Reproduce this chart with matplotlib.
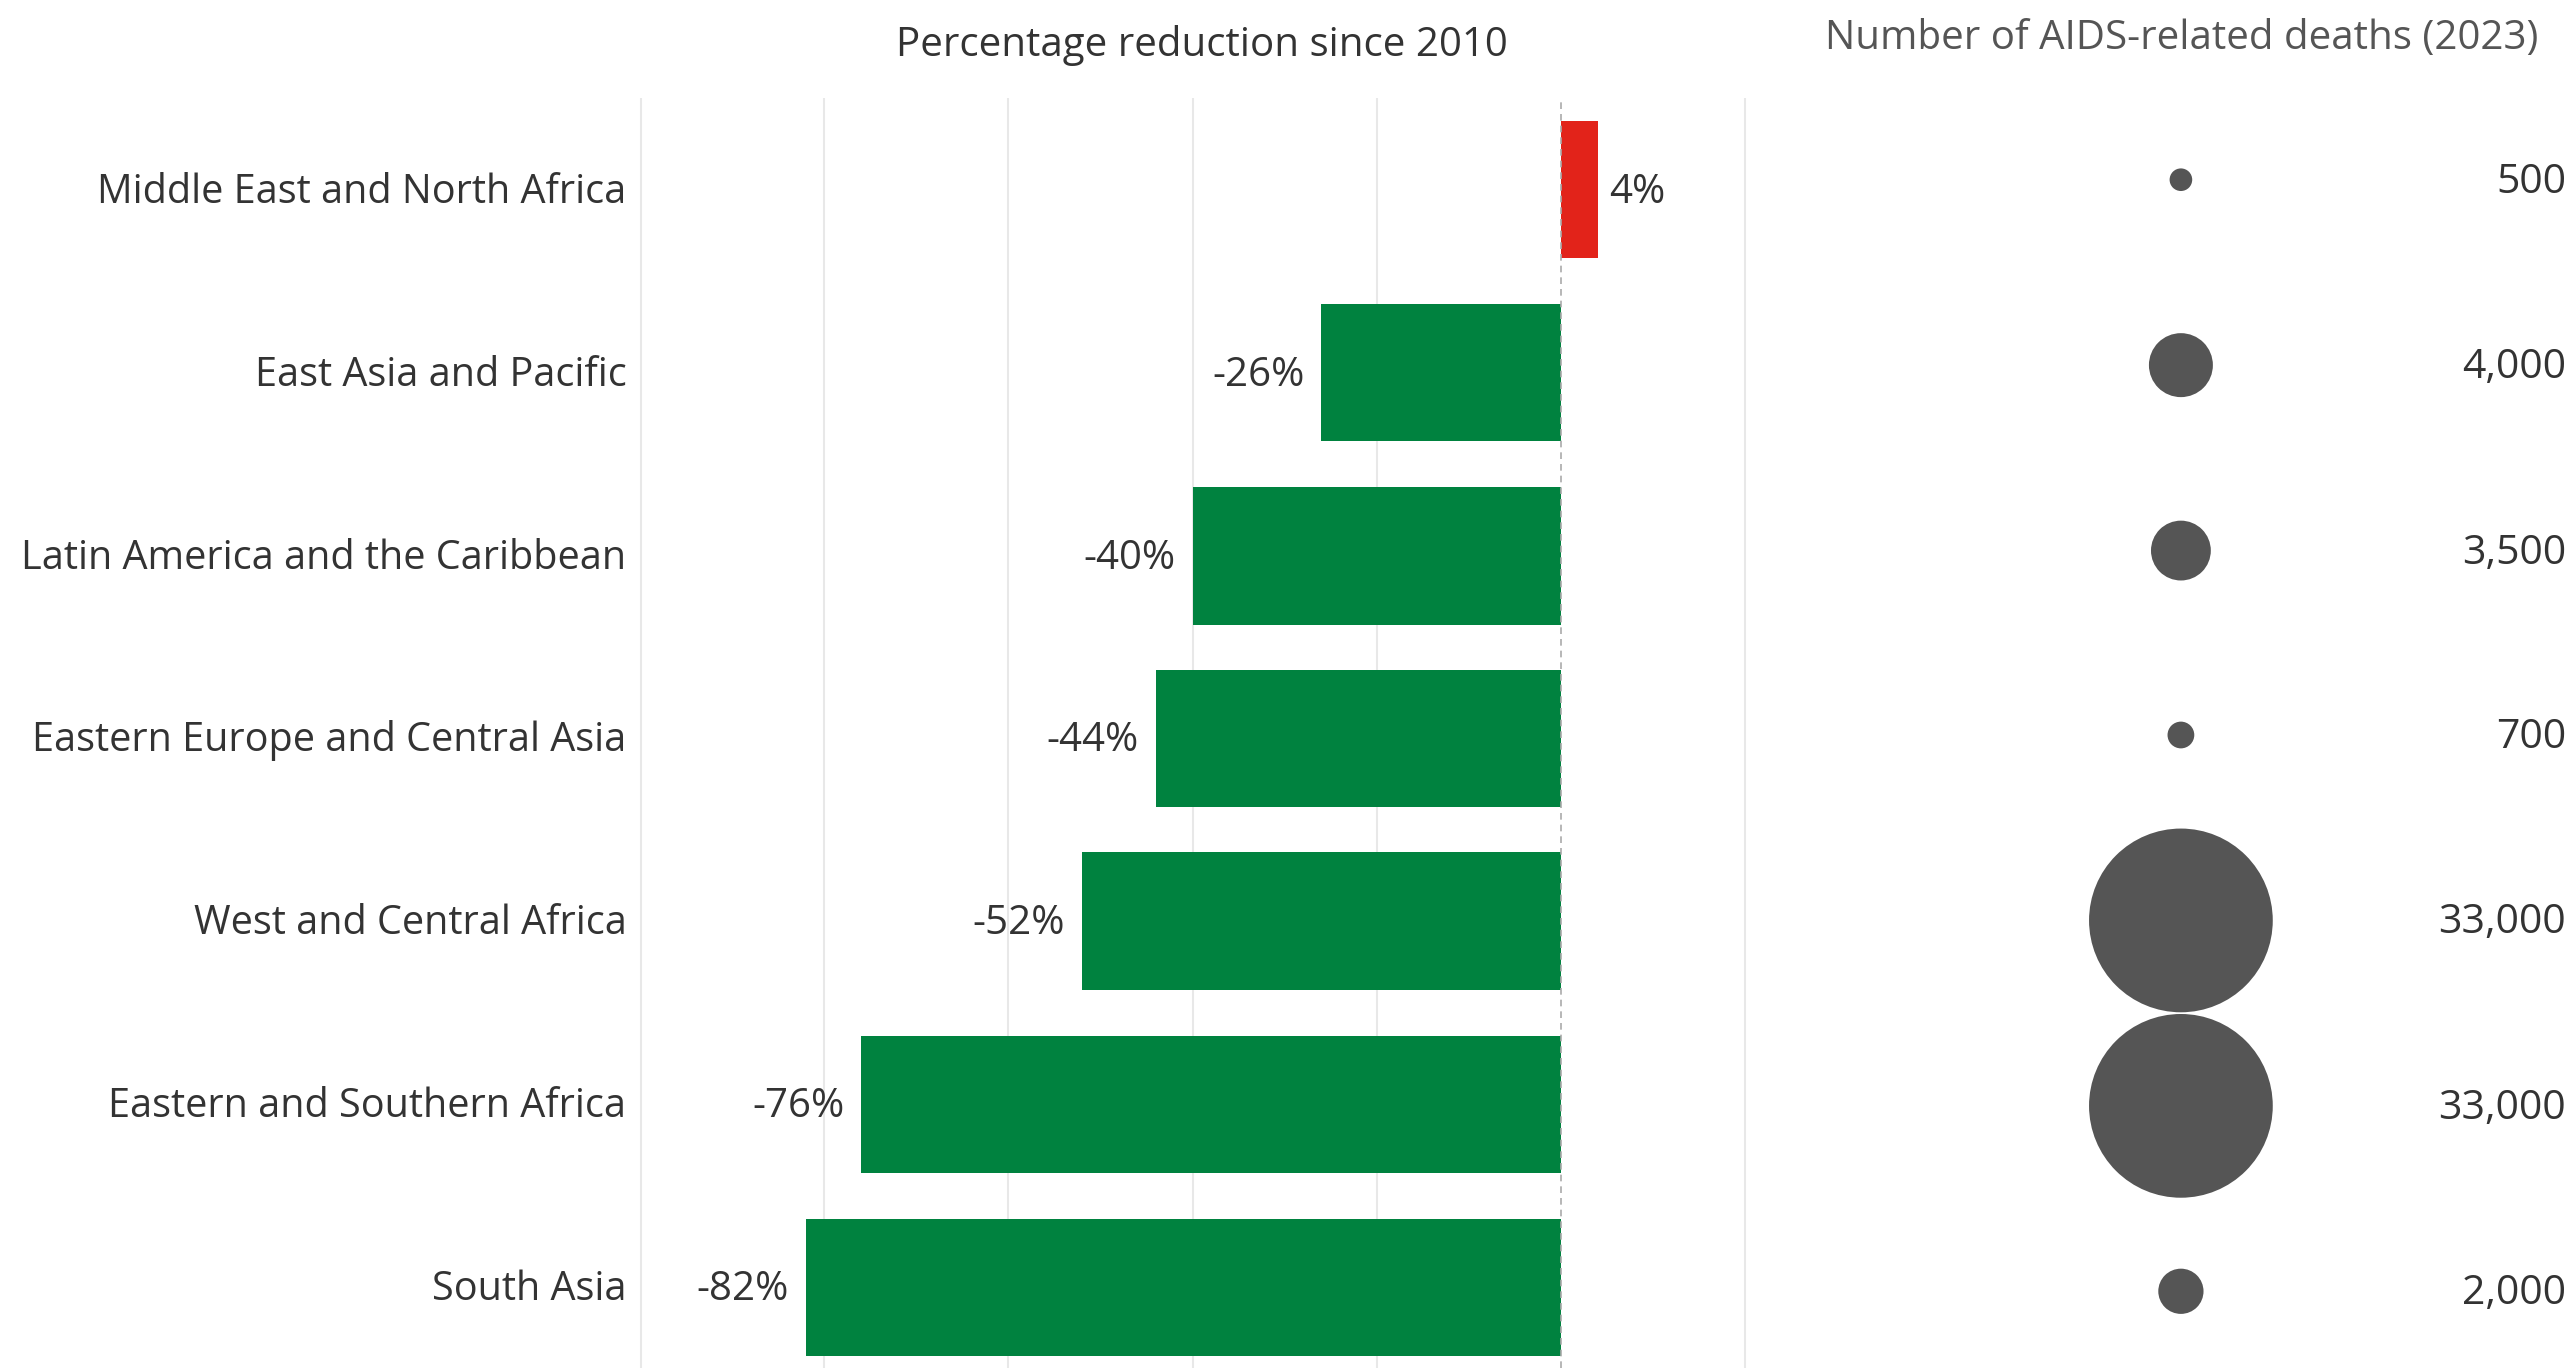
import matplotlib
matplotlib.use("Agg")
import matplotlib.pyplot as plt

# =========================
# DATA
# =========================
regions = [
    "Middle East and North Africa",
    "East Asia and Pacific",
    "Latin America and the Caribbean",
    "Eastern Europe and Central Asia",
    "West and Central Africa",
    "Eastern and Southern Africa",
    "South Asia",
]
pct_change = [4, -26, -40, -44, -52, -76, -82]
deaths_2023 = [500, 4000, 3500, 700, 33000, 33000, 2000]

# =========================
# STYLE
# =========================
plt.rcParams["font.family"] = ["Open Sans", "DejaVu Sans"]
GREEN = "#00823f"
RED = "#e2231a"
BUBBLE = "#555555"
TEXT = "#333333"
GRID = "#e8e8e8"

W, H = 2578, 1369
fig = plt.figure(figsize=(W / 100, H / 100), dpi=100)

def px_axes(x0, y0, x1, y1):
    # box given in pixel coords from top-left
    return fig.add_axes([x0 / W, 1 - y1 / H, (x1 - x0) / W, (y1 - y0) / H])

# =========================
# BAR PANEL
# =========================
ax = px_axes(632, 98, 1755, H)
rows = list(range(len(regions)))
colors = [RED if v > 0 else GREEN for v in pct_change]
ax.barh(rows, pct_change, height=0.75, color=colors, zorder=2)

ax.set_xlim(-101, 21)
ax.set_ylim(6.44, -0.5)
ax.set_xticks([-100, -80, -60, -40, -20, 20])
ax.xaxis.grid(True, color=GRID, linewidth=1.5, zorder=0)
ax.axvline(0, color="#aaaaaa", linewidth=1.2, linestyle=(0, (4, 3)), zorder=3)
ax.tick_params(left=False, bottom=False, labelbottom=False, labelleft=False)
for s in ax.spines.values():
    s.set_visible(False)

for i, v in enumerate(pct_change):
    label = f"{v}%"
    if v < 0:
        ax.annotate(label, (v, i), xytext=(-12, -2), textcoords="offset points",
                    ha="right", va="center", fontsize=29, color=TEXT)
    else:
        ax.annotate(label, (v, i), xytext=(8, -2), textcoords="offset points",
                    ha="left", va="center", fontsize=29, color=TEXT)

# region labels right-aligned left of the panel
for i, name in enumerate(regions):
    ax.annotate(name, (0, i), xycoords=("axes fraction", "data"),
                xytext=(-4, -2), textcoords="offset points",
                ha="right", va="center", fontsize=28.5, color=TEXT)

fig.text(1203 / W, 1 - 45 / H, "Percentage reduction since 2010",
         ha="center", va="center", fontsize=29, color=TEXT)

# =========================
# BUBBLE PANEL
# =========================
ax2 = px_axes(1760, 87, W, 1385)
ax2.set_xlim(0, 1)
ax2.set_ylim(6.5, -0.5)
ax2.axis("off")

max_d = max(deaths_2023)
sizes = [17500 * d / max_d for d in deaths_2023]
ax2.scatter([0.517] * len(rows), rows, s=sizes, color=BUBBLE, linewidths=0)

for i, d in enumerate(deaths_2023):
    ax2.annotate(f"{d:,}", (0.988, i), xytext=(0, -2), textcoords="offset points",
                 ha="right", va="center", fontsize=29.5, color=TEXT)

fig.text(2183 / W, 1 - 39 / H, "Number of AIDS-related deaths (2023)",
         ha="center", va="center", fontsize=29, color="#555555")

fig.savefig("out.png", dpi=100, facecolor="white")
